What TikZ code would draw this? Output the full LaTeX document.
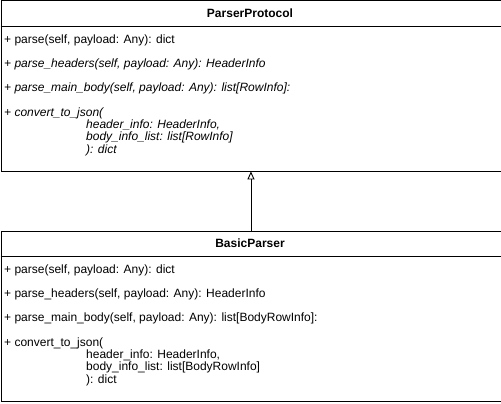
\documentclass[tikz,border=0pt]{standalone}
\usepackage{fontspec}
\setmainfont{Liberation Sans}
\usetikzlibrary{arrows.meta}
\begin{document}
\begin{tikzpicture}[x=1pt,y=-1pt,
  box/.style={draw, line width=0.9pt, minimum width=500pt, minimum height=170pt, anchor=north west, inner sep=0pt},
  title/.style={font=\fontsize{12}{14}\selectfont\bfseries, inner sep=0pt},
  meth/.style={font=\fontsize{12}{14}\selectfont, anchor=west, inner sep=0pt},
  imeth/.style={meth, font=\fontsize{12}{14}\selectfont\itshape},
  sep/.style={line width=0.9pt}]
\useasboundingbox (0,0) rectangle (501,404);
% top class
\node[box] (top) at (0.5,0.5) {};
\node[title] (ttitle) at (250,13.5) {ParserProtocol};
\draw[sep] ([yshift=-26pt]top.north west) -- ([yshift=-26pt]top.north east);
\node[meth] (t1) at (4,40) {+ parse(self, payload: Any): dict};
\node[imeth] (t2) at (4,64) {+ parse\_headers(self, payload: Any): HeaderInfo};
\node[imeth] (t3) at (4,88) {+ parse\_main\_body(self, payload: Any): list[RowInfo]:};
\node[imeth] (t4) at (4,113) {+ convert\_to\_json(};
\node[imeth] (t5) at (86,125) {header\_info: HeaderInfo,};
\node[imeth] (t6) at (86,137) {body\_info\_list: list[RowInfo]};
\node[imeth] (t7) at (86,150) {): dict};
% bottom class
\node[box] (bot) at (0.5,230.5) {};
\node[title] (btitle) at (250,243.5) {BasicParser};
\draw[sep] ([yshift=-26pt]bot.north west) -- ([yshift=-26pt]bot.north east);
\node[meth] (b1) at (4,270) {+ parse(self, payload: Any): dict};
\node[meth] (b2) at (4,294) {+ parse\_headers(self, payload: Any): HeaderInfo};
\node[meth] (b3) at (4,318) {+ parse\_main\_body(self, payload: Any): list[BodyRowInfo]:};
\node[meth] (b4) at (4,343) {+ convert\_to\_json(};
\node[meth] (b5) at (86,355) {header\_info: HeaderInfo,};
\node[meth] (b6) at (86,367) {body\_info\_list: list[BodyRowInfo]};
\node[meth] (b7) at (86,380) {): dict};
% inheritance
\draw[line width=0.9pt, -{Triangle[open,length=8pt,width=7pt]}] (bot.north) -- (top.south);
\end{tikzpicture}
\end{document}
